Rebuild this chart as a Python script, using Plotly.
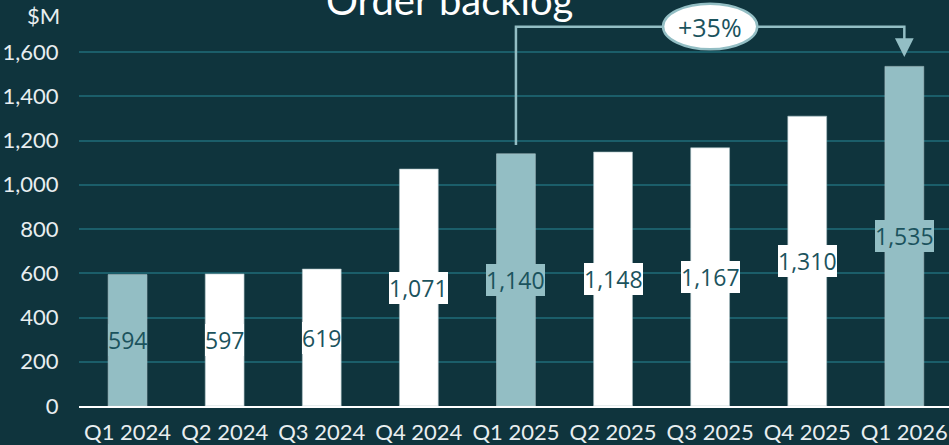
import plotly.graph_objects as go

# ---- data ----
quarters = ["Q1 2024", "Q2 2024", "Q3 2024", "Q4 2024", "Q1 2025",
            "Q2 2025", "Q3 2025", "Q4 2025", "Q1 2026"]
backlog = [594, 597, 619, 1071, 1140, 1148, 1167, 1310, 1535]
labels = ["594", "597", "619", "1,071", "1,140", "1,148", "1,167", "1,310", "1,535"]
highlight = [True, False, False, False, True, False, False, False, True]
y_ticks = [0, 200, 400, 600, 800, 1000, 1200, 1400, 1600]
y_tick_text = ["0", "200", "400", "600", "800", "1,000", "1,200", "1,400", "1,600"]
growth_text = "+35%"
growth_from = 4   # Q1 2025
growth_to = 8     # Q1 2026

# ---- style ----
BG = "#0f343d"
GRID = "#1b5e6a"
TEAL = "#93bec4"
WHITE = "#ffffff"
LABEL = "#1b535d"
TICK = "#e8eef0"
FONT = "Lato"

colors = [TEAL if h else WHITE for h in highlight]
xi = list(range(len(quarters)))

fig = go.Figure()
fig.add_trace(go.Bar(
    x=xi, y=backlog, width=0.4,
    marker=dict(color=colors, line=dict(color="#a9c0c4", width=0.6)),
    hoverinfo="skip",
))

# value labels centered in the bars, on a box of the bar colour
for i, (v, t, c) in enumerate(zip(backlog, labels, colors)):
    fig.add_annotation(
        x=i, y=v / 2, xref="x", yref="y", text=t, showarrow=False,
        bgcolor=c, borderpad=0, borderwidth=0, width=None,
        font=dict(family="Open Sans", size=23, color=LABEL),
    )

# growth bracket
level = 1714
start = backlog[growth_from] + 40
tip = 1577
fig.add_shape(
    type="path", xref="x", yref="y",
    path=f"M {growth_from},{start} L {growth_from},{level} L {growth_to},{level} L {growth_to},{tip + 60}",
    line=dict(color=TEAL, width=2.5),
)
fig.add_annotation(
    x=growth_to, y=tip, xref="x", yref="y",
    ax=growth_to, ay=tip + 70, axref="x", ayref="y",
    text="", showarrow=True, arrowhead=2, arrowsize=1.5, arrowwidth=2.5,
    arrowcolor=TEAL,
)
ell_x = 6.0  # ellipse sits above Q3 2025 on the bracket
fig.add_shape(
    type="circle", xref="x", yref="y",
    x0=ell_x - 0.485, x1=ell_x + 0.485, y0=level - 102, y1=level + 104,
    fillcolor=WHITE, line=dict(color=TEAL, width=2.5),
)
fig.add_annotation(
    x=ell_x, y=level, xref="x", yref="y", text=growth_text, showarrow=False,
    font=dict(family="Open Sans", size=25, color=LABEL),
)

# title (cut off at top) and unit label
fig.add_annotation(
    x=(449 - 79) / 870, y=1.0, xref="paper", yref="paper",
    text="Order backlog", showarrow=False, xanchor="center", yanchor="middle",
    font=dict(family=FONT, size=40, color=WHITE),
)
fig.add_annotation(
    x=(62 - 79) / 870, y=(406 - 15) / 406, xref="paper", yref="paper",
    text="$M", showarrow=False, xanchor="right", yanchor="middle",
    font=dict(family=FONT, size=22, color=TICK),
)

fig.update_layout(
    width=949, height=445,
    margin=dict(l=79, r=0, t=0, b=39),
    paper_bgcolor=BG, plot_bgcolor=BG,
    showlegend=False,
    xaxis=dict(
        tickmode="array", tickvals=xi, ticktext=quarters,
        range=[-0.5, 8.46],
        showgrid=False, zeroline=False,
        showline=True, linecolor=WHITE, linewidth=2,
        ticks="outside", ticklen=6, tickcolor="rgba(0,0,0,0)",
        tickfont=dict(family=FONT, size=22, color=TICK),
    ),
    yaxis=dict(
        tickmode="array", tickvals=y_ticks, ticktext=y_tick_text,
        range=[0, 1835],
        showgrid=True, gridcolor=GRID, gridwidth=1.5,
        zeroline=False, showline=False,
        ticks="outside", ticklen=15, tickcolor="rgba(0,0,0,0)",
        tickfont=dict(family=FONT, size=22, color=TICK),
    ),
)

fig.write_html(
    "out.html",
    config={"displayModeBar": False},
    post_script="document.body.style.margin='0';document.body.style.background='%s';" % BG,
)
